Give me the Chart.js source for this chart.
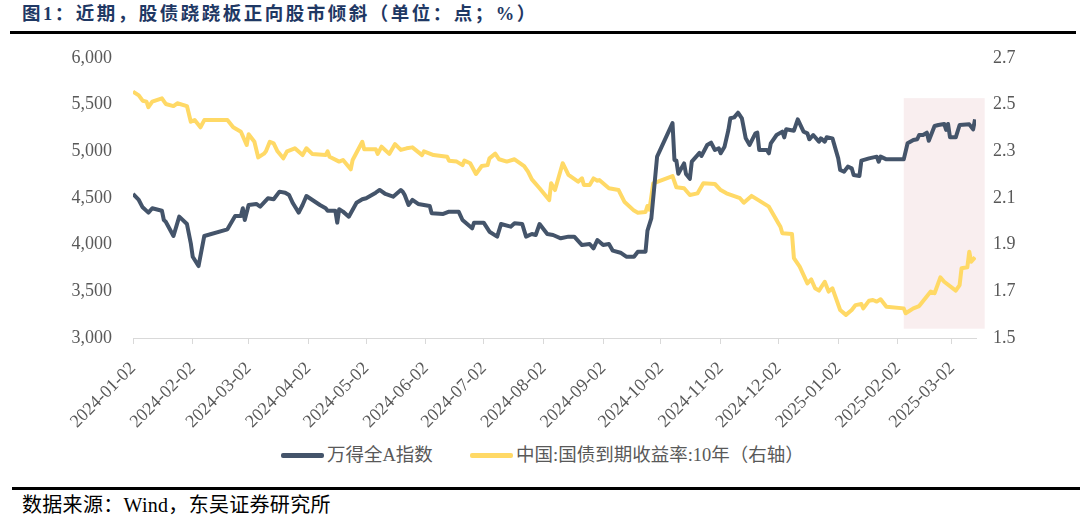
<!DOCTYPE html>
<html>
<head>
<meta charset="utf-8">
<script src="https://cdn.jsdelivr.net/npm/chart.js@4.4.1/dist/chart.umd.min.js"></script>
<style>
  html, body { margin: 0; padding: 0; background: #fff; }
  body { width: 1080px; height: 517px; position: relative; overflow: hidden;
         font-family: 'Liberation Serif', 'Noto Sans CJK SC', serif; }
  #title { position: absolute; left: 22px; top: 3px; font-size: 18.5px; line-height: 22px; font-weight: bold;
           letter-spacing: 2.5px; color: #1f3864; white-space: nowrap; }
  #ruleTop { position: absolute; left: 10px; right: 4px; top: 31px; height: 3px; background: #000; }
  #wrap { position: absolute; left: 0; top: 40px; width: 1080px; height: 400px; }
  #legend { position: absolute; top: 444px; left: 0; width: 1080px; height: 22px; }
  .item { position: absolute; top: 0; height: 22px; display: flex; align-items: center;
          font-size: 18.5px; line-height: 22px; color: #595959; white-space: nowrap; }
  .swatch { width: 43px; height: 5px; border-radius: 2px; margin-right: 3px; }
  #ruleBottom { position: absolute; left: 12px; right: 0; top: 487px; height: 3px; background: #000; }
  #source { position: absolute; left: 22px; top: 494px; font-size: 20px; line-height: 22px;
            letter-spacing: 0.3px; color: #000; white-space: nowrap; }
</style>
</head>
<body>
<div id="title">图1：近期，股债跷跷板正向股市倾斜（单位：点；%）</div>
<div id="ruleTop"></div>
<div id="wrap"><canvas id="myChart"></canvas></div>
<div id="legend"></div>
<div id="ruleBottom"></div>
<div id="source">数据来源：Wind，东吴证券研究所</div>

<script>
// tick labels
var tickLabels = ['2024-01-02','2024-02-02','2024-03-02','2024-04-02','2024-05-02','2024-06-02',
  '2024-07-02','2024-08-02','2024-09-02','2024-10-02','2024-11-02','2024-12-02',
  '2025-01-02','2025-02-02','2025-03-02'];
var leftTicks = [3000, 3500, 4000, 4500, 5000, 5500, 6000];
var rightTicks = [1.5, 1.7, 1.9, 2.1, 2.3, 2.5, 2.7];

var seriesNames = ['万得全A指数', '中国:国债到期收益率:10年（右轴）'];

// 万得全A指数 (left axis)
var indexDates = ['2024-01-02','2024-01-05','2024-01-07','2024-01-10','2024-01-12','2024-01-17','2024-01-18',
  '2024-01-19','2024-01-23','2024-01-26','2024-01-30','2024-02-01','2024-02-02','2024-02-05','2024-02-08',
  '2024-02-20','2024-02-24','2024-02-27','2024-02-28','2024-02-29','2024-03-02','2024-03-06','2024-03-08',
  '2024-03-12','2024-03-15','2024-03-18','2024-03-21','2024-03-23','2024-03-25','2024-03-28','2024-03-30',
  '2024-04-01','2024-04-08','2024-04-11','2024-04-12','2024-04-16','2024-04-17','2024-04-18','2024-04-20',
  '2024-04-23','2024-04-27','2024-04-30','2024-05-02','2024-05-07','2024-05-09','2024-05-12','2024-05-16',
  '2024-05-20','2024-05-21','2024-05-22','2024-05-24','2024-05-26','2024-05-29','2024-06-04','2024-06-05',
  '2024-06-11','2024-06-14','2024-06-19','2024-06-21','2024-06-26','2024-06-27','2024-07-02','2024-07-05',
  '2024-07-09','2024-07-11','2024-07-16','2024-07-18','2024-07-22','2024-07-24','2024-07-27','2024-07-29',
  '2024-07-31','2024-08-04','2024-08-07','2024-08-11','2024-08-15','2024-08-18','2024-08-22','2024-08-26',
  '2024-08-28','2024-08-30','2024-09-02','2024-09-05','2024-09-07','2024-09-11','2024-09-14','2024-09-18',
  '2024-09-20','2024-09-24','2024-09-25','2024-09-27','2024-09-30','2024-10-08','2024-10-09','2024-10-10',
  '2024-10-11','2024-10-14','2024-10-15','2024-10-17','2024-10-18','2024-10-22','2024-10-23','2024-10-26',
  '2024-10-28','2024-10-30','2024-11-01','2024-11-02','2024-11-04','2024-11-06','2024-11-07','2024-11-09',
  '2024-11-11','2024-11-13','2024-11-15','2024-11-17','2024-11-20','2024-11-21','2024-11-22','2024-11-26',
  '2024-11-27','2024-11-28','2024-12-01','2024-12-04','2024-12-05','2024-12-06','2024-12-10','2024-12-12',
  '2024-12-15','2024-12-17','2024-12-18','2024-12-20','2024-12-23','2024-12-24','2024-12-26','2024-12-27',
  '2024-12-30','2025-01-02','2025-01-03','2025-01-05','2025-01-07','2025-01-09','2025-01-10','2025-01-13',
  '2025-01-14','2025-01-18','2025-01-22','2025-01-23','2025-01-24','2025-01-27','2025-02-05','2025-02-07',
  '2025-02-10','2025-02-12','2025-02-13','2025-02-15','2025-02-17','2025-02-18','2025-02-21','2025-02-23',
  '2025-02-26','2025-02-27','2025-02-28','2025-03-01','2025-03-04','2025-03-06','2025-03-11','2025-03-13',
  '2025-03-14'];
var indexValues = [4543,4479,4400,4343,4390,4364,4264,
  4246,4093,4300,4221,4014,3871,3771,4093,
  4164,4307,4307,4390,4264,4425,4436,4407,
  4497,4486,4568,4557,4532,4443,4343,4425,
  4521,4425,4390,4364,4364,4236,4379,4354,
  4300,4450,4486,4497,4557,4586,4543,4514,
  4586,4568,4532,4425,4479,4436,4414,4336,
  4329,4354,4354,4264,4175,4236,4236,4139,
  4086,4221,4193,4229,4221,4086,4114,4104,
  4221,4114,4104,4068,4086,4086,3996,4007,
  3961,4050,3996,4007,3936,3914,3871,3871,
  3925,3925,4150,4282,4943,5303,4907,4900,
  4760,4871,4757,4705,4889,4983,4950,5068,
  5093,5014,5032,4979,5050,5229,5354,5364,
  5414,5354,5139,5068,5193,5200,5014,5014,
  4979,5086,5175,5211,5150,5236,5221,5343,
  5211,5193,5129,5175,5104,5139,5104,5150,
  5139,4925,4800,4782,4836,4818,4746,4736,
  4900,4925,4943,4889,4943,4914,4914,5086,
  5121,5129,5175,5175,5200,5114,5271,5282,
  5293,5229,5293,5150,5150,5282,5289,5236,
  5343];

// 中国:国债到期收益率:10年 (right axis, %)
var bondDates = ['2024-01-02','2024-01-05','2024-01-07','2024-01-09','2024-01-10','2024-01-12','2024-01-17',
  '2024-01-19','2024-01-23','2024-01-25','2024-01-30','2024-02-01','2024-02-03','2024-02-06','2024-02-08',
  '2024-02-20','2024-02-23','2024-02-27','2024-03-01','2024-03-02','2024-03-05','2024-03-07','2024-03-10',
  '2024-03-11','2024-03-13','2024-03-15','2024-03-17','2024-03-20','2024-03-22','2024-03-26','2024-03-30',
  '2024-04-01','2024-04-04','2024-04-11','2024-04-12','2024-04-13','2024-04-18','2024-04-20','2024-04-24',
  '2024-04-25','2024-04-30','2024-05-01','2024-05-07','2024-05-08','2024-05-10','2024-05-14','2024-05-17',
  '2024-05-20','2024-05-23','2024-05-26','2024-05-31','2024-06-01','2024-06-06','2024-06-13','2024-06-14',
  '2024-06-18','2024-06-21','2024-06-22','2024-06-25','2024-06-28','2024-07-01','2024-07-04','2024-07-05',
  '2024-07-08','2024-07-10','2024-07-14','2024-07-18','2024-07-23','2024-07-25','2024-07-27','2024-07-31',
  '2024-08-05','2024-08-06','2024-08-08','2024-08-12','2024-08-15','2024-08-20','2024-08-22','2024-08-23',
  '2024-08-26','2024-08-28','2024-08-30','2024-08-31','2024-09-05','2024-09-10','2024-09-13','2024-09-18',
  '2024-09-20','2024-09-24','2024-09-25','2024-09-26','2024-09-28','2024-10-08','2024-10-10','2024-10-14',
  '2024-10-17','2024-10-21','2024-10-24','2024-10-30','2024-11-02','2024-11-05','2024-11-12','2024-11-14',
  '2024-11-18','2024-11-27','2024-12-02','2024-12-03','2024-12-04','2024-12-09','2024-12-10','2024-12-13',
  '2024-12-17','2024-12-19','2024-12-21','2024-12-23','2024-12-26','2024-12-28','2024-12-30','2025-01-03',
  '2025-01-06','2025-01-09','2025-01-11','2025-01-14','2025-01-15','2025-01-18','2025-01-20','2025-01-22',
  '2025-01-24','2025-01-27','2025-02-05','2025-02-06','2025-02-10','2025-02-13','2025-02-19','2025-02-21',
  '2025-02-24','2025-02-26','2025-03-04','2025-03-06','2025-03-07','2025-03-10','2025-03-11','2025-03-12',
  '2025-03-14'];
var bondYield = [2.556,2.540,2.517,2.513,2.489,2.513,2.527,
  2.503,2.494,2.506,2.494,2.427,2.434,2.403,2.434,
  2.434,2.403,2.384,2.327,2.373,2.341,2.274,2.290,
  2.300,2.341,2.334,2.300,2.270,2.300,2.313,2.284,
  2.313,2.289,2.284,2.300,2.277,2.256,2.263,2.223,
  2.263,2.341,2.309,2.309,2.289,2.320,2.289,2.331,
  2.306,2.313,2.317,2.284,2.300,2.284,2.277,2.260,
  2.256,2.241,2.260,2.249,2.203,2.237,2.241,2.270,
  2.290,2.266,2.256,2.266,2.237,2.213,2.180,2.142,
  2.091,2.163,2.134,2.249,2.199,2.170,2.184,2.156,
  2.156,2.184,2.174,2.177,2.142,2.134,2.084,2.046,
  2.037,2.040,2.066,2.050,2.163,2.194,2.146,2.142,
  2.113,2.120,2.163,2.160,2.134,2.120,2.099,2.080,
  2.109,2.063,1.991,1.977,1.949,1.946,1.842,1.806,
  1.734,1.751,1.713,1.703,1.741,1.699,1.713,1.620,
  1.599,1.620,1.641,1.646,1.627,1.660,1.663,1.656,
  1.666,1.634,1.627,1.606,1.627,1.637,1.699,1.692,
  1.760,1.741,1.703,1.727,1.799,1.803,1.870,1.827,
  1.846];

// shaded period (recent weeks)
var band = { from: '2025-02-05', to: '2025-03-19', top: 5570, bottom: 3100, color: '#f9eeef' };

var DAY = 86400000;
var origin = Date.parse(tickLabels[0]);
function toDay(s) { return (Date.parse(s) - origin) / DAY; }
function toPoints(dates, values) {
  return dates.map(function (d, i) { return { x: toDay(d), y: values[i] }; });
}

var axisFont = { family: "'Liberation Serif', 'Noto Sans CJK SC', serif", size: 18 };
var axisColor = '#595959';

var bandPlugin = {
  id: 'bandPlugin',
  beforeDatasetsDraw: function (chart) {
    var ctx = chart.ctx, x = chart.scales.x, y = chart.scales.y;
    var l = x.getPixelForValue(toDay(band.from));
    var r = x.getPixelForValue(toDay(band.to));
    var t = y.getPixelForValue(band.top);
    var b = y.getPixelForValue(band.bottom);
    ctx.save();
    ctx.fillStyle = band.color;
    ctx.fillRect(l, t, r - l, b - t);
    ctx.restore();
  }
};

function drawChart() {
  var element = document.getElementById('myChart').getContext('2d');
  var myChart = new Chart(element, {
    type: 'line',
    data: {
      datasets: [
        {
          label: seriesNames[0],
          data: toPoints(indexDates, indexValues),
          yAxisID: 'y',
          borderColor: '#44546a',
          borderWidth: 4,
          pointRadius: 0,
          tension: 0,
          borderJoinStyle: 'round',
          fill: false
        },
        {
          label: seriesNames[1],
          data: toPoints(bondDates, bondYield),
          yAxisID: 'y1',
          borderColor: '#ffd966',
          borderWidth: 4,
          pointRadius: 0,
          tension: 0,
          borderJoinStyle: 'round',
          fill: false
        }
      ]
    },
    options: {
      responsive: true,
      maintainAspectRatio: false,
      animation: false,
      layout: { padding: { top: 18, left: 0, right: 0, bottom: 0 } },
      plugins: { legend: { display: false }, tooltip: { enabled: false } },
      scales: {
        x: {
          type: 'linear',
          min: 0,
          max: toDay(indexDates[indexDates.length - 1]) + 0.5,
          afterBuildTicks: function (s) { s.ticks = tickLabels.map(function (l) { return { value: toDay(l) }; }); },
          afterFit: function (s) { s.height = 102; },
          grid: { display: true, drawOnChartArea: false, drawTicks: true, tickLength: 6, color: '#d9d9d9' },
          border: { display: true, color: '#d9d9d9' },
          ticks: {
            autoSkip: false, maxRotation: 45, minRotation: 45, padding: 14,
            color: axisColor, font: axisFont,
            callback: function (v, i) { return tickLabels[i]; }
          }
        },
        y: {
          position: 'left',
          min: leftTicks[0],
          max: leftTicks[leftTicks.length - 1],
          afterBuildTicks: function (s) { s.ticks = leftTicks.map(function (v) { return { value: v }; }); },
          afterFit: function (s) { s.width = 133; },
          // invisible tick marks give the gap between labels and plot
          grid: { display: true, drawOnChartArea: false, drawTicks: true, tickLength: 21, color: 'rgba(0,0,0,0)' },
          border: { display: false },
          ticks: { padding: 0, color: axisColor, font: axisFont,
                   callback: function (v) { return v.toLocaleString('en-US'); } }
        },
        y1: {
          position: 'right',
          min: rightTicks[0],
          max: rightTicks[rightTicks.length - 1],
          afterBuildTicks: function (s) { s.ticks = rightTicks.map(function (v) { return { value: v }; }); },
          afterFit: function (s) { s.width = 104; },
          grid: { display: true, drawOnChartArea: false, drawTicks: true, tickLength: 17, color: 'rgba(0,0,0,0)' },
          border: { display: false },
          ticks: { padding: 0, color: axisColor, font: axisFont,
                   callback: function (v) { return v.toFixed(1); } }
        }
      }
    },
    plugins: [bandPlugin]
  });

  // html legend built from the datasets
  var legendLeft = [281, 470];
  var legend = document.getElementById('legend');
  myChart.data.datasets.forEach(function (ds, i) {
    var item = document.createElement('div');
    item.className = 'item';
    item.style.left = legendLeft[i] + 'px';
    var sw = document.createElement('span');
    sw.className = 'swatch';
    sw.style.background = ds.borderColor;
    var tx = document.createElement('span');
    tx.textContent = ds.label;
    item.appendChild(sw);
    item.appendChild(tx);
    legend.appendChild(item);
  });
}

drawChart();
</script>
</body>
</html>
